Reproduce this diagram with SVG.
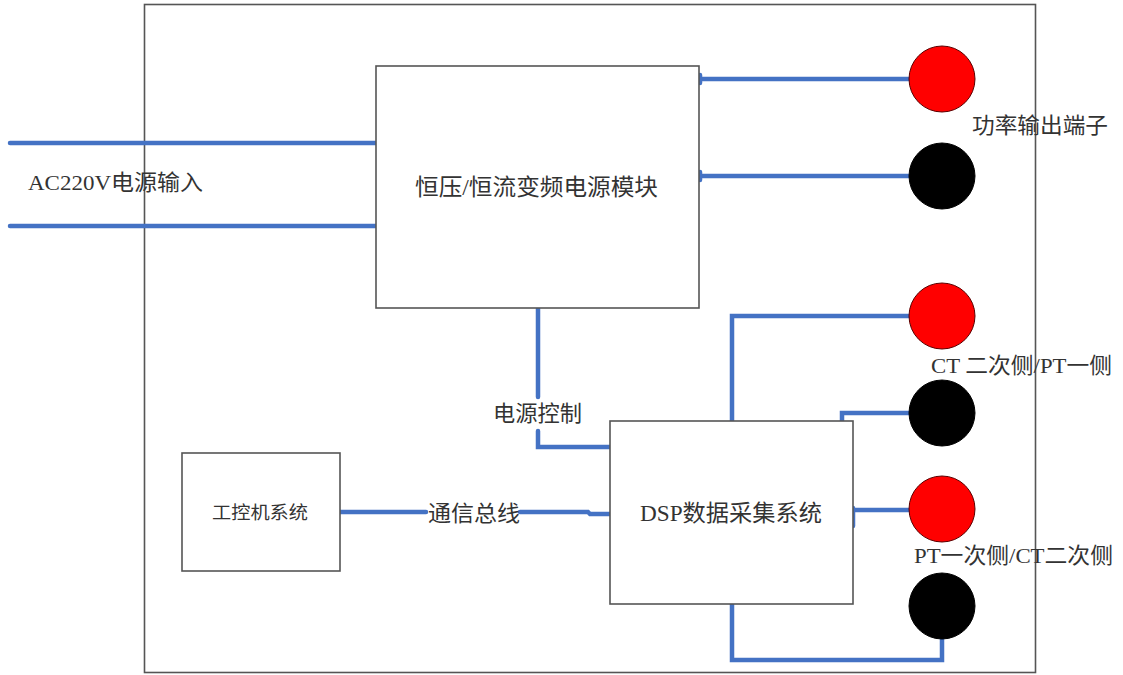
<svg xmlns="http://www.w3.org/2000/svg" width="1123" height="675" viewBox="0 0 1123 675">
<style>
.box{fill:#fff;stroke:#555;stroke-width:1.6}
.frame{fill:none;stroke:#555;stroke-width:1.6}
.wire{fill:none;stroke:#4472C4;stroke-width:4.5;stroke-linecap:round;stroke-linejoin:miter}
.txt{font-family:"Liberation Serif","Noto Sans CJK SC",serif;fill:#333}
.t22{font-size:22px}
.t23{font-size:23px}
.t19{font-size:18px}
.red{fill:#FF0000;stroke:#5a0000;stroke-width:1}
.blk{fill:#000;stroke:#000;stroke-width:1}
</style>
<rect width="1123" height="675" fill="#fff"/>
<rect class="frame" x="144.5" y="4.5" width="891" height="668"/>
<g id="connectors">
<path class="wire" d="M10 143H376"/>
<path class="wire" d="M10 226H376"/>
<path class="wire" d="M700 79H912"/>
<path class="wire" d="M700 75V83"/>
<path class="wire" d="M700 176H912"/>
<path class="wire" d="M700 172V180"/>
<path class="wire" d="M538 308V397"/>
<path class="wire" d="M538 431V447H610"/>
<path class="wire" d="M340 512H426"/>
<path class="wire" d="M520 512H588L590 514H610"/>
<path class="wire" d="M732 421V316H912"/>
<path class="wire" d="M842 421V413H912"/>
<path class="wire" d="M853 510H912"/>
<path class="wire" d="M853 508V526"/>
<path class="wire" d="M732 604V660H942V638"/>
</g>
<g id="power-module">
<rect class="box" x="376" y="66" width="323" height="242"/>
<text class="txt t23" x="415" y="195" textLength="243" lengthAdjust="spacingAndGlyphs">恒压/恒流变频电源模块</text>
</g>
<g id="dsp">
<rect class="box" x="610" y="421" width="243" height="183"/>
<text class="txt t23" x="640" y="521" textLength="182" lengthAdjust="spacingAndGlyphs">DSP数据采集系统</text>
</g>
<g id="ipc">
<rect class="box" x="182" y="453" width="158" height="118"/>
<text class="txt t19" x="212" y="519" textLength="96" lengthAdjust="spacingAndGlyphs">工控机系统</text>
</g>
<g id="labels">
<text class="txt t22" x="28" y="190" textLength="175" lengthAdjust="spacingAndGlyphs">AC220V电源输入</text>
<text class="txt t22" x="493" y="421" textLength="89" lengthAdjust="spacingAndGlyphs">电源控制</text>
<text class="txt t22" x="428" y="521" textLength="92" lengthAdjust="spacingAndGlyphs">通信总线</text>
<text class="txt t22" x="972" y="133" textLength="136" lengthAdjust="spacingAndGlyphs">功率输出端子</text>
<text class="txt t22" x="931" y="373" textLength="181" lengthAdjust="spacingAndGlyphs">CT 二次侧/PT一侧</text>
<text class="txt t22" x="914" y="563" textLength="199" lengthAdjust="spacingAndGlyphs">PT一次侧/CT二次侧</text>
</g>
<g id="terminal-power-red"><circle class="red" cx="942" cy="79" r="33"/></g>
<g id="terminal-power-black"><circle class="blk" cx="942" cy="176" r="33"/></g>
<g id="terminal-ct-red"><circle class="red" cx="942" cy="316" r="33"/></g>
<g id="terminal-ct-black"><circle class="blk" cx="942" cy="413" r="33"/></g>
<g id="terminal-pt-red"><circle class="red" cx="942" cy="509" r="33"/></g>
<g id="terminal-pt-black"><circle class="blk" cx="942" cy="606" r="33"/></g>
</svg>
